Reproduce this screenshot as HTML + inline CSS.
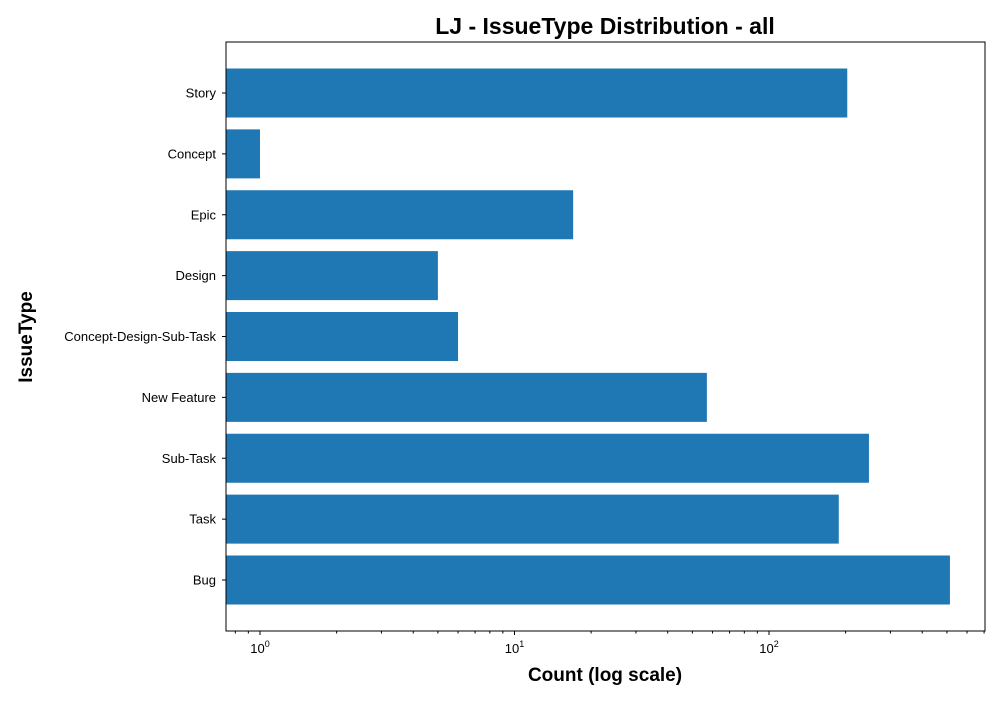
<!DOCTYPE html>
<html><head><meta charset="utf-8"><style>
body{margin:0;background:#fff;font-family:"Liberation Sans","DejaVu Sans",sans-serif;}
</style></head><body>
<svg width="1000" height="700" xmlns="http://www.w3.org/2000/svg">
<g id="plot"></g>
</svg>
<script>
const categories=["Story","Concept","Epic","Design","Concept-Design-Sub-Task","New Feature","Sub-Task","Task","Bug"];
const counts=[203,1,17,5,6,57,247,188,514];
const xTickExps=[0,1,2];
const L=226,R=985,T=42,B=631,dec=254.5,x0=260;
function xs(v){return x0+Math.log10(v)*dec;}
const step=(B-T)/categories.length*0.9977;
function yc(i){return 93+i*60.875;}
const g=document.getElementById('plot');
const NS='http://www.w3.org/2000/svg';
function mk(t,a,txt){const e=document.createElementNS(NS,t);for(const k in a)e.setAttribute(k,a[k]);if(txt!=null)e.textContent=txt;g.appendChild(e);return e;}
categories.forEach((c,i)=>{
 const b=mk('rect',{x:L,y:yc(i)-24.5,width:xs(counts[i])-L,height:49,fill:'#1f77b4'});
 
 
 mk('line',{x1:L-4,x2:L,y1:yc(i),y2:yc(i),stroke:'#000','stroke-width':1});
 const t=mk('text',{x:L-10,y:yc(i)+4.5,'text-anchor':'end','font-size':13},c);
 
 
});
for(let e=-1;e<=2;e++)for(let m=1;m<10;m++){
 const v=m*Math.pow(10,e),x=xs(v);
 if(x<L-0.5||x>R+0.5)continue;
 const major=m===1;
 mk('line',{x1:x,x2:x,y1:B,y2:B+(major?4:2.5),stroke:'#000','stroke-width':1});
}
xTickExps.forEach(e=>{
 const t=mk('text',{x:xs(Math.pow(10,e)),y:B+22,'text-anchor':'middle','font-size':13});
 t.innerHTML='10<tspan dy="-6" font-size="9">'+e+'</tspan>';
 
 
});
const fr=mk('rect',{x:L,y:T,width:R-L,height:B-T,fill:'none',stroke:'#000','stroke-width':1});


const ti=mk('text',{x:605,y:34,'text-anchor':'middle','font-size':23,'font-weight':'bold'},'LJ - IssueType Distribution - all');


const xt=mk('text',{x:605,y:681,'text-anchor':'middle','font-size':19,'font-weight':'bold'},'Count (log scale)');


const yt=mk('text',{x:0,y:0,'text-anchor':'middle','font-size':19,'font-weight':'bold',transform:'translate(32,337) rotate(-90)'},'IssueType');


</script>
</body></html>
